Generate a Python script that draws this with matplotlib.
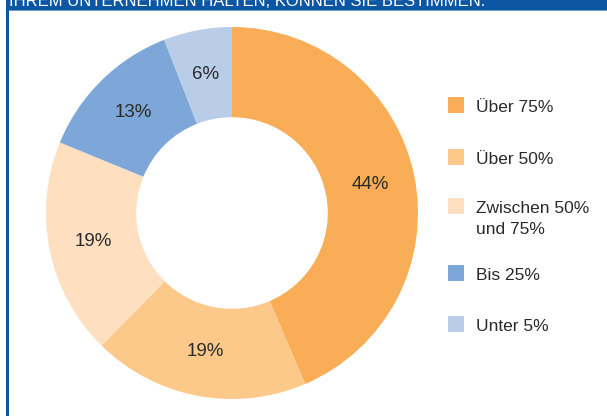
import matplotlib
matplotlib.use("Agg")
import matplotlib.pyplot as plt
from matplotlib.patches import Rectangle

plt.rcParams['font.family'] = ['Liberation Sans', 'DejaVu Sans']

# data
labels = ['Über 75%', 'Über 50%', 'Zwischen 50%\nund 75%', 'Bis 25%', 'Unter 5%']
values = [44, 19, 19, 13, 6]
colors = ['#F9AD57', '#FDC98A', '#FEDFC0', '#7DA7D8', '#B9CDE9']
title = 'IHREM UNTERNEHMEN HALTEN, KÖNNEN SIE BESTIMMEN.'

W, H = 607, 416
fig = plt.figure(figsize=(W / 100, H / 100), dpi=100)
frame_blue = '#0D56A3'

# top banner + left border
fig.patches.append(Rectangle((6 / W, 1 - 10 / H), 1, 10 / H, transform=fig.transFigure,
                             facecolor=frame_blue, edgecolor='none'))
fig.patches.append(Rectangle((6 / W, 1 - 11 / H), 1, 1 / H, transform=fig.transFigure,
                             facecolor='#6E9CCF', edgecolor='none'))
fig.patches.append(Rectangle((6 / W, 0), 2.5 / W, 1, transform=fig.transFigure,
                             facecolor=frame_blue, edgecolor='none'))
fig.text(9 / W, 1 - 6 / H, title, color='white', fontsize=12, va='baseline', ha='left')

# donut
cx, cy, r = 232, H - 213, 186
ax = fig.add_axes([(cx - r) / W, (cy - r) / H, 2 * r / W, 2 * r / H])
wedges, texts, autotexts = ax.pie(values, colors=colors, startangle=90, counterclock=False,
                                  radius=1, autopct='%d%%', pctdistance=0.76,
                                  wedgeprops=dict(width=0.485, linewidth=0),
                                  textprops=dict(fontsize=13.5, color='#2a2a2a'))
for t, v in zip(autotexts, values):
    t.set_text(f'{v}%')
ax.set_xlim(-1, 1)
ax.set_ylim(-1, 1)
ax.set_aspect('equal')
ax.axis('off')

# legend
lx = 448
centers = [105, 157, 206, 273, 324]
for lab, col, yc in zip(labels, colors, centers):
    fig.patches.append(Rectangle((lx / W, (H - yc - 8) / H), 16 / W, 16 / H,
                                 transform=fig.transFigure, facecolor=col, edgecolor='none'))
    fig.text(476 / W, (H - yc - 7) / H, lab.split('\n')[0], fontsize=12.5, color='#2a2a2a',
             va='baseline', ha='left')
    if '\n' in lab:
        fig.text(476 / W, (H - yc - 7 - 21) / H, lab.split('\n')[1], fontsize=12.5,
                 color='#2a2a2a', va='baseline', ha='left')

fig.savefig('out.png', dpi=100)
